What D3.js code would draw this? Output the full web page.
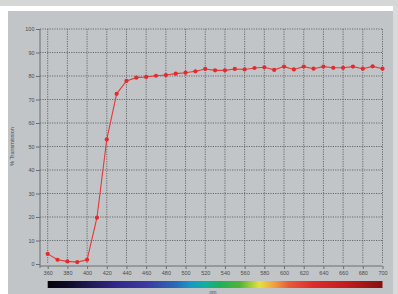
<!DOCTYPE html>
<html>
<head>
<meta charset="utf-8">
<script src="https://cdn.jsdelivr.net/npm/d3@7"></script>
<style>
  html, body { margin: 0; padding: 0; background: #fff; }
  svg { display: block; font-family: "Liberation Sans", Arial, sans-serif; }
</style>
</head>
<body>
<div id="chart"></div>
<script>
// wavelength (nm) and % transmission
const wavelengths = [360, 370, 380, 390, 400, 410, 420, 430, 440, 450, 460, 470, 480, 490, 500, 510,
  520, 530, 540, 550, 560, 570, 580, 590, 600, 610, 620, 630, 640, 650, 660, 670, 680, 690, 700];
const transmission = [4.3, 1.8, 1.1, 0.8, 1.8, 19.7, 53, 72.4, 77.9, 79.3, 79.6, 80.1, 80.4, 81.0, 81.4, 82.0,
  83.0, 82.4, 82.4, 83.0, 82.8, 83.4, 83.7, 82.6, 84.0, 82.8, 84.0, 83.1, 84.0, 83.5, 83.5, 84.0, 83.1, 84.1, 83.1];
const xTicks = [360, 380, 400, 420, 440, 460, 480, 500, 520, 540, 560, 580, 600, 620, 640, 660, 680, 700];
const yTicks = [0, 10, 20, 30, 40, 50, 60, 70, 80, 90, 100];
// spectrum bar colour stops (nm, colour)
const spectrumNm = [360, 380, 400, 430, 460, 490, 505, 520, 535, 555, 575, 590, 605, 630, 665, 700];
const spectrumColors = ['#07040c', '#0e0a26', '#1c1850', '#33288a', '#3a3aa2', '#2a6ab8', '#1898c4', '#10b0a0',
  '#20b058', '#50b438', '#e6e03c', '#f0a040', '#e65a3a', '#de2c2c', '#c01c1e', '#861010'];

const W = 398, H = 294;
const svg = d3.select('#chart').append('svg').attr('width', W).attr('height', H);

// frame: grey strip on top, white border, grey panel
svg.append('rect').attr('width', W).attr('height', H).attr('fill', '#ffffff');
svg.append('rect').attr('width', W).attr('height', 6).attr('fill', '#d5d6d6');
svg.append('rect').attr('x', 393).attr('y', 6).attr('width', 5).attr('height', H - 6).attr('fill', '#d9dada');
svg.append('rect').attr('x', 8).attr('y', 11).attr('width', 385).attr('height', H - 11).attr('fill', '#c2c5c7');

const x = d3.scaleLinear().domain([360, 700]).range([47.7, 382.5]);
const y = d3.scaleLinear().domain([0, 100]).range([264, 29]);

// dotted grid
const grid = svg.append('g').attr('stroke', '#5e6264').attr('stroke-width', 0.9).attr('stroke-dasharray', '1.2,1.2');
grid.selectAll('.gx').data(xTicks).enter().append('line')
  .attr('x1', d => x(d)).attr('x2', d => x(d)).attr('y1', y(100)).attr('y2', y(0));
grid.selectAll('.gy').data(yTicks.filter(d => d > 0)).enter().append('line')
  .attr('x1', 40).attr('x2', x(700)).attr('y1', d => y(d)).attr('y2', d => y(d));

// axes
const yAxis = svg.append('g').attr('transform', 'translate(40,0)')
  .call(d3.axisLeft(y).tickValues(yTicks).tickSize(4).tickPadding(1.5));
const xAxis = svg.append('g').attr('transform', 'translate(0,266)')
  .call(d3.axisBottom(x).tickValues(xTicks).tickSize(3).tickPadding(2.5));
[yAxis, xAxis].forEach(a => {
  a.select('.domain').attr('stroke', '#6a6e70').attr('stroke-width', 1);
  a.selectAll('.tick line').attr('stroke', '#6a6e70');
  a.selectAll('.tick text').attr('fill', '#4a4c4e').attr('font-size', 5.5);
});
xAxis.select('.domain').attr('d', `M40,0H${x(700)}`);
yAxis.select('.domain').attr('d', `M0,${y(100)}V${268}`);

// axis titles
svg.append('text').attr('transform', `translate(14,${y(50)}) rotate(-90)`)
  .attr('text-anchor', 'middle').attr('font-size', 5.5).attr('fill', '#4a4c4e').text('% Transmission');
svg.append('text').attr('x', 213).attr('y', 293.5).attr('text-anchor', 'middle')
  .attr('font-size', 5).attr('fill', '#4a4c4e').text('nm');

// spectrum bar
const defs = svg.append('defs');
const grad = defs.append('linearGradient').attr('id', 'spec')
  .attr('gradientUnits', 'userSpaceOnUse').attr('x1', x(360)).attr('x2', x(700)).attr('y1', 0).attr('y2', 0);
grad.selectAll('stop').data(spectrumNm).enter().append('stop')
  .attr('offset', d => (d - 360) / 340).attr('stop-color', (d, i) => spectrumColors[i]);
svg.append('rect').attr('x', x(360)).attr('y', 281).attr('width', x(700) - x(360)).attr('height', 7)
  .attr('fill', 'url(#spec)');

// series
const pts = wavelengths.map((w, i) => [w, transmission[i]]);
svg.append('path').datum(pts)
  .attr('fill', 'none').attr('stroke', '#e8383a').attr('stroke-width', 1.1)
  .attr('d', d3.line().x(d => x(d[0])).y(d => y(d[1])));
svg.selectAll('.pt').data(pts).enter().append('circle')
  .attr('cx', d => x(d[0])).attr('cy', d => y(d[1])).attr('r', 2.1).attr('fill', '#e32a2c');
</script>
</body>
</html>
